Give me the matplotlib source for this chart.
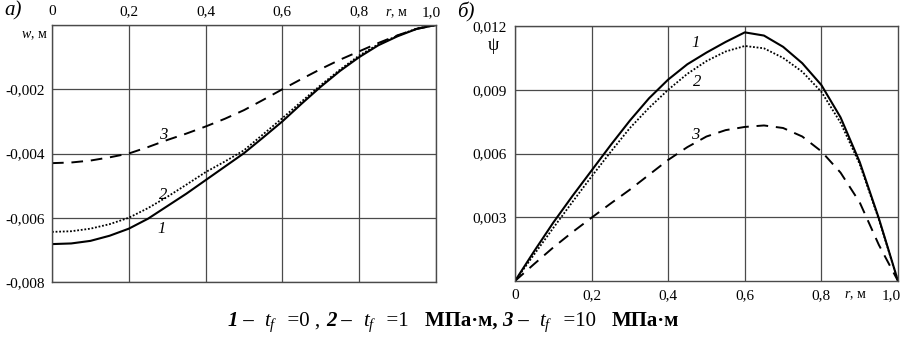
import matplotlib
matplotlib.use("Agg")
import matplotlib.pyplot as plt
from matplotlib.offsetbox import TextArea, HPacker, AnchoredOffsetbox

plt.rcParams['font.family'] = ['Liberation Serif', 'DejaVu Serif']
plt.rcParams['mathtext.fontset'] = 'custom'
plt.rcParams['mathtext.rm'] = 'Liberation Serif'
plt.rcParams['mathtext.it'] = 'Liberation Serif:italic'
plt.rcParams['mathtext.bf'] = 'Liberation Serif:bold'

# ---- data ----
r = [0.0, 0.05, 0.1, 0.15, 0.2, 0.25, 0.3, 0.35, 0.4, 0.45, 0.5,
     0.55, 0.6, 0.65, 0.7, 0.75, 0.8, 0.85, 0.9, 0.95, 1.0]

w1 = [-0.00682, -0.00680, -0.00672, -0.00656, -0.00634, -0.00603, -0.00564,
      -0.00525, -0.00483, -0.00441, -0.00399, -0.00350, -0.00300, -0.00245,
      -0.00192, -0.00143, -0.00100, -0.00063, -0.00035, -0.00012, 0.0]
w2 = [-0.00644, -0.00642, -0.00634, -0.00620, -0.00600, -0.00570, -0.00535,
      -0.00497, -0.00458, -0.00425, -0.00390, -0.00340, -0.00290, -0.00238,
      -0.00187, -0.00139, -0.00095, -0.00060, -0.00033, -0.00011, 0.0]
w3 = [-0.00430, -0.00428, -0.00422, -0.00412, -0.00400, -0.00380, -0.00358,
      -0.00338, -0.00316, -0.00292, -0.00265, -0.00233, -0.00200, -0.00168,
      -0.00137, -0.00108, -0.00082, -0.00056, -0.00032, -0.00012, 0.0]

psi1 = [0.0, 0.00140, 0.00275, 0.00400, 0.00520, 0.00640, 0.00755, 0.00860,
        0.00948, 0.01020, 0.01075, 0.01125, 0.01170, 0.01155, 0.01102,
        0.01025, 0.00922, 0.00770, 0.00560, 0.00295, 0.0]
psi2 = [0.0, 0.00125, 0.00250, 0.00372, 0.00492, 0.00608, 0.00720, 0.00815,
        0.00900, 0.00975, 0.01035, 0.01080, 0.01106, 0.01095, 0.01050,
        0.00985, 0.00890, 0.00745, 0.00550, 0.00290, 0.0]
psi3 = [0.0, 0.00080, 0.00158, 0.00230, 0.00298, 0.00365, 0.00430, 0.00500,
        0.00570, 0.00630, 0.00680, 0.00710, 0.00725, 0.00732, 0.00720,
        0.00680, 0.00610, 0.00510, 0.00370, 0.00170, 0.0]

x_ticks = [0.0, 0.2, 0.4, 0.6, 0.8, 1.0]
x_ticklabels = ["0", "0,2", "0,4", "0,6", "0,8", "1,0"]
w_ticks = [-0.008, -0.006, -0.004, -0.002]
w_ticklabels = ["-0,008", "-0,006", "-0,004", "-0,002"]
psi_ticks = [0.003, 0.006, 0.009, 0.012]
psi_ticklabels = ["0,003", "0,006", "0,009", "0,012"]

W, H = 909, 339
fig = plt.figure(figsize=(W / 100, H / 100), dpi=100)

def fx(px):
    return px / W

def fy(py):
    return 1 - py / H

grid_c = '#4a4a4a'
tick_fs = 11

axL = fig.add_axes([fx(52), fy(282), fx(436 - 52), (282 - 25) / H])
axR = fig.add_axes([fx(515), fy(281), fx(898 - 515), (281 - 26) / H])

for ax in (axL, axR):
    for s in ax.spines.values():
        s.set_color(grid_c)
        s.set_linewidth(1.0)
    ax.set_xlim(0, 1.0)
    ax.tick_params(length=0, labelsize=tick_fs, colors='black')
    ax.grid(True, color=grid_c, linewidth=0.9)
    ax.set_axisbelow(True)

# Left panel
axL.set_ylim(-0.008, 0)
axL.plot(r, w1, color='black', lw=1.5, ls='-')
axL.plot(r, w2, color='black', lw=1.3, ls=(0, (1, 1)))
axL.plot(r, w3, color='black', lw=1.4, ls=(0, (6, 4)))
axL.set_xticks(x_ticks[:-1])
axL.set_xticklabels(x_ticklabels[:-1])
axL.xaxis.tick_top()
axL.tick_params(axis='x', pad=5)
axL.set_yticks(w_ticks + [0.0])
axL.set_yticklabels(w_ticklabels + [""])
axL.tick_params(axis='y', pad=5)
axL.axvline(1.0, color=grid_c, lw=0.9)

# Right panel
axR.set_ylim(0, 0.012)
axR.plot(r, psi1, color='black', lw=1.5, ls='-')
axR.plot(r, psi2, color='black', lw=1.3, ls=(0, (1, 1)))
axR.plot(r, psi3, color='black', lw=1.4, ls=(0, (6, 4)))
axR.set_xticks(x_ticks[:-1])
axR.set_xticklabels(x_ticklabels[:-1])
axR.tick_params(axis='x', pad=6)
axR.set_yticks(psi_ticks)
axR.set_yticklabels(psi_ticklabels)
axR.tick_params(axis='y', pad=6)

# extra labels
fig.text(fx(431), fy(13), "1,0", fontsize=tick_fs, ha='center', va='center')
fig.text(fx(396), fy(13), "$r$, м", fontsize=tick_fs - 1, ha='center', va='center')
fig.text(fx(48), fy(35), "$w$, м", fontsize=tick_fs - 1, ha='right', va='center')
fig.text(fx(891), fy(296), "1,0", fontsize=tick_fs, ha='center', va='center')
fig.text(fx(855), fy(296), "$r$, м", fontsize=tick_fs - 1, ha='center', va='center')
fig.text(fx(493), fy(45), "ψ", fontsize=13, ha='center', va='center')
fig.text(fx(4), fy(11), "а)", fontsize=15, ha='left', va='center', style='italic')
fig.text(fx(457), fy(12), "б)", fontsize=15, ha='left', va='center', style='italic')

# curve labels
lab_fs = 12
fig.text(fx(163), fy(135), "3", fontsize=lab_fs, style='italic', ha='center', va='center')
fig.text(fx(163), fy(195), "2", fontsize=lab_fs, style='italic', ha='center', va='center')
fig.text(fx(162), fy(229), "1", fontsize=lab_fs, style='italic', ha='center', va='center')
fig.text(fx(696), fy(43), "1", fontsize=lab_fs, style='italic', ha='center', va='center')
fig.text(fx(697), fy(82), "2", fontsize=lab_fs, style='italic', ha='center', va='center')
fig.text(fx(695), fy(135), "3", fontsize=lab_fs, style='italic', ha='center', va='center')

# caption
cfs = 15
bi = dict(fontsize=cfs, fontweight='bold', style='italic')
b = dict(fontsize=cfs, fontweight='bold')
n = dict(fontsize=cfs)
parts = [("1", bi), (" –  ", b), ("$t_f$", n), ("  =0 , ", n),
         ("2", bi), (" –  ", b), ("$t_f$", n), ("  =1   ", n), ("МПа·м, ", b),
         ("3", bi), (" –  ", b), ("$t_f$", n), ("  =10   ", n), ("МПа·м", b)]
boxes = [TextArea(t, textprops=p) for t, p in parts]
pack = HPacker(children=boxes, align='baseline', pad=0, sep=0)
anch = AnchoredOffsetbox(loc='center', child=pack, pad=0, borderpad=0, frameon=False,
                         bbox_to_anchor=(fx(453), fy(322)), bbox_transform=fig.transFigure)
fig.add_artist(anch)

fig.savefig("out.png", dpi=100)
